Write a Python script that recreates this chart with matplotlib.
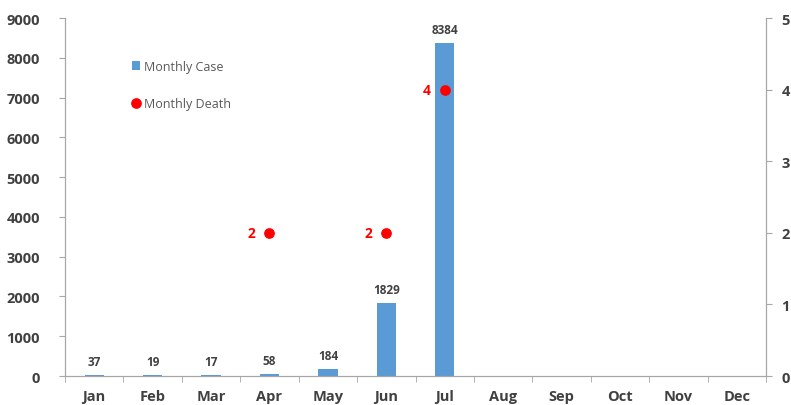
import matplotlib.pyplot as plt
import numpy as np

months = ['Jan', 'Feb', 'Mar', 'Apr', 'May', 'Jun', 'Jul', 'Aug', 'Sep', 'Oct', 'Nov', 'Dec']
case_months = ['Jan', 'Feb', 'Mar', 'Apr', 'May', 'Jun', 'Jul']
monthly_case = [37, 19, 17, 58, 184, 1829, 8384]
death_months = ['Apr', 'Jun', 'Jul']
monthly_death = [2, 2, 4]

plt.rcParams['font.family'] = ['Open Sans', 'DejaVu Sans']

fig = plt.figure(figsize=(7.91, 4.06), dpi=100)
ax = fig.add_axes([0.0822, 0.0714, 0.8862, 0.8816])
ax2 = ax.twinx()

grey = '#A6A6A6'
txt = '#404040'
bar_col = '#5B9BD5'

x_case = [months.index(m) for m in case_months]
x_death = [months.index(m) for m in death_months]

ax.bar(x_case, monthly_case, width=0.33, color=bar_col, label='Monthly Case', zorder=2)
for xi, v in zip(x_case, monthly_case):
    ax.annotate(str(v), (xi, v), xytext=(0, 5), textcoords='offset points',
                ha='center', va='bottom', fontsize=8.5, fontweight='bold', color=txt)

ax2.scatter(x_death, monthly_death, s=45, color='#FF0000', label='Monthly Death', zorder=3)
for xi, v in zip(x_death, monthly_death):
    ax2.annotate(str(v), (xi, v), xytext=(-10, 0), textcoords='offset points',
                 ha='right', va='center', fontsize=10, fontweight='bold', color='#FF0000')

ax.set_xlim(-0.5, 11.5)
ax.set_ylim(0, 9000)
ax2.set_ylim(0, 5)
ax.set_yticks(np.arange(0, 9001, 1000))
ax2.set_yticks(np.arange(0, 6, 1))
ax.set_xticks(range(12))
ax.set_xticklabels(months)
ax.set_xticks(np.arange(-0.5, 12, 1), minor=True)
ax.tick_params(axis='x', which='major', length=0, pad=9)
ax.tick_params(axis='x', which='minor', length=4, color=grey)

for a in (ax, ax2):
    a.spines['top'].set_visible(False)
    for s in ('left', 'right', 'bottom'):
        a.spines[s].set_color(grey)
    a.tick_params(axis='y', length=4, color=grey, labelsize=10.5, labelcolor=txt)
    for lab in a.get_yticklabels():
        lab.set_fontweight('bold')
for lab in ax.get_xticklabels():
    lab.set_fontweight('bold')
    lab.set_color(txt)
    lab.set_fontsize(10.5)
ax.tick_params(axis='y', pad=14)
ax2.tick_params(axis='y', pad=7)

h1, l1 = ax.get_legend_handles_labels()
h2, l2 = ax2.get_legend_handles_labels()
leg = ax.legend(h1 + h2, l1 + l2, loc='upper left', bbox_to_anchor=(0.079, 0.915),
                frameon=False, fontsize=9, handlelength=0.7, handletextpad=0.3,
                labelspacing=1.9, labelcolor='#595959')
leg.legend_handles[0].set_height(6)

fig.savefig('out.png', dpi=100)
